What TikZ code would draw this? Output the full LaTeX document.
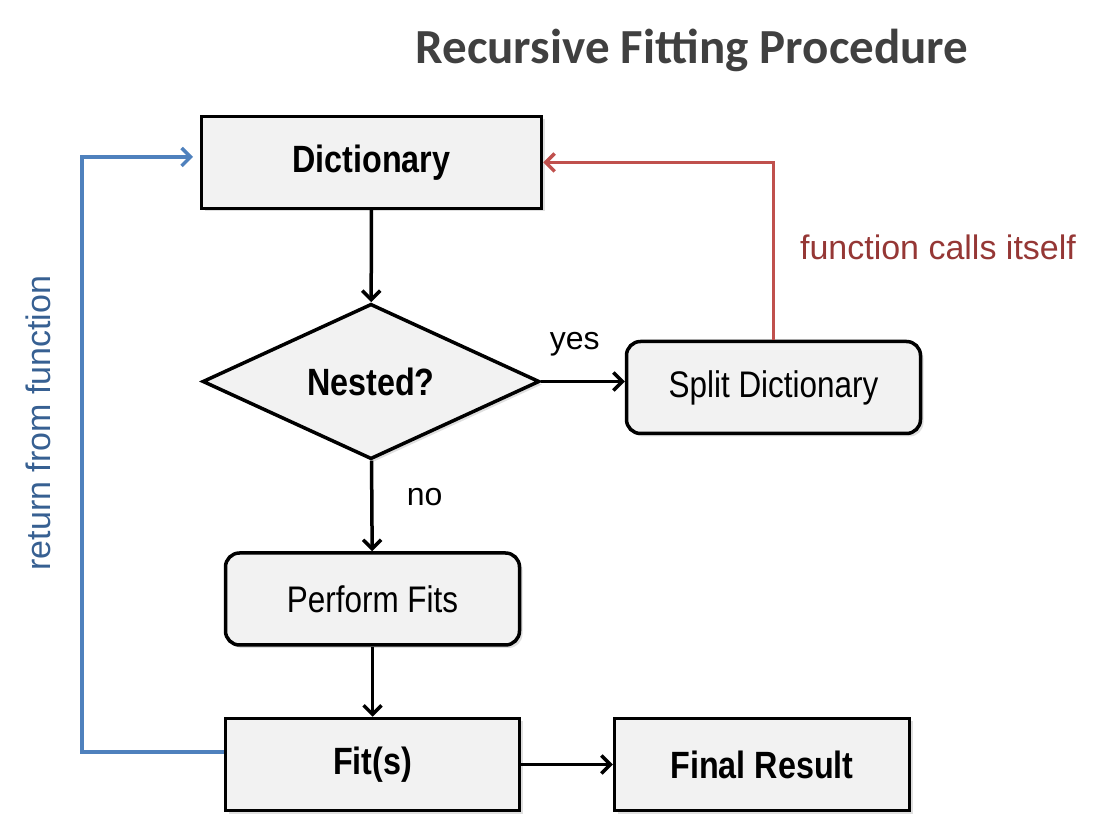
\documentclass[tikz,border=0pt]{standalone}
\usepackage{fontspec}
\setmainfont{Liberation Sans}
\newfontfamily\narrowsans[FakeStretch=0.85]{Liberation Sans}
\newfontfamily\titlefont{Carlito}
\usetikzlibrary{arrows.meta,shapes.geometric,shadows,positioning}
\definecolor{BoxFill}{RGB}{242,242,242}
\definecolor{C2}{RGB}{192,80,77}
\definecolor{C2text}{RGB}{149,55,53}
\definecolor{C1}{RGB}{79,129,189}
\definecolor{C1text}{RGB}{55,96,146}
\definecolor{T1}{RGB}{64,64,64}

\begin{document}
\begin{tikzpicture}[x=1pt, y=1pt,
    box/.style={draw, line width=3.5pt, fill=BoxFill, inner sep=0pt,
      minimum width=294pt, minimum height=92pt,
      drop shadow={shadow xshift=3pt, shadow yshift=-3pt, opacity=0.25}},
    rbox/.style={box, rounded corners=14pt},
    boldtext/.style={font=\narrowsans\bfseries\fontsize{38}{40}\selectfont},
    plaintext/.style={font=\narrowsans\fontsize{37}{39}\selectfont},
    labeltext/.style={font=\fontsize{32}{34}\selectfont},
    flow/.style={line width=3.5pt, -{Straight Barb[length=9pt, width=18pt]}},
    callline/.style={line width=3.5pt, C2, -{Straight Barb[length=9pt, width=18pt]}},
    retline/.style={line width=3.5pt, C1, -{Straight Barb[length=9pt, width=18pt]}}]
      \useasboundingbox (0, 0) rectangle (1106, 825);
      \node[font=\titlefont\bfseries\fontsize{49}{52}\selectfont, T1] (title) at (692, 775) {Recursive Fitting Procedure};
      \node[box, boldtext, minimum width=340pt] (dict) at (371.5, 662.5) {Dictionary};
      \node[draw, diamond, line width=3.5pt, fill=BoxFill, boldtext, inner sep=0pt,
            minimum width=337pt, minimum height=150pt,
            drop shadow={shadow xshift=3pt, shadow yshift=-3pt, opacity=0.25}] (nested) at (371, 443.5) {Nested?};
      \node[rbox, plaintext] (split) at (773.5, 437.5) {Split Dictionary};
      \node[rbox, plaintext] (perform) at (372.5, 226) {Perform Fits};
      \node[box, boldtext] (fits) at (372.5, 60.5) {Fit(s)};
      \node[box, boldtext, minimum width=295pt] (final) at (762, 60.5) {Final Result};
      \coordinate (rettop) at (193, 668);
      \coordinate (retcorner) at (82, 73);
      \draw[flow] (dict) -- (nested);
      \draw[flow] (nested.east) -- (nested.east -| split.west) node[pos=0.4, above=20pt, labeltext]{yes};
      \draw[flow] (nested) -- (perform) node[pos=0.4, right=30pt, labeltext]{no};
      \draw[flow] (perform) -- (fits);
      \draw[flow] (fits) -- (final);
      \draw[callline] (split.north) |- (dict.east);
      \draw[retline] (fits.west |- retcorner) -- (retcorner) |- (rettop);
      \node[C2text, font=\fontsize{34}{36}\selectfont] (calls) at (938, 578) {function calls itself};
      \node[C1text, font=\fontsize{34}{36}\selectfont, rotate=90] (ret) at (38, 402) {return from function};
    \end{tikzpicture}
\end{document}
